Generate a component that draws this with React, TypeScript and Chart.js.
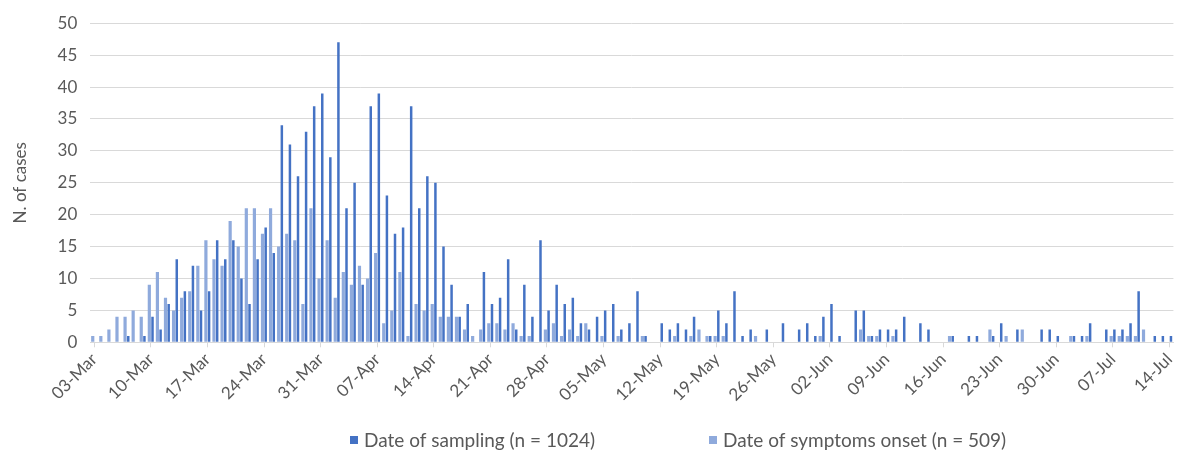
import React, { useEffect, useRef } from 'react';
import { Chart, registerables } from 'chart.js';

Chart.register(...registerables);

// ---- data ----
const MONTHS = ['Jan', 'Feb', 'Mar', 'Apr', 'May', 'Jun', 'Jul', 'Aug', 'Sep', 'Oct', 'Nov', 'Dec'];
const FIRST_DAY = { year: 2020, month: 2, day: 3 };
const DAY_COUNT = 134;

const TICK_LABELS = [
  '03-Mar', '10-Mar', '17-Mar', '24-Mar', '31-Mar', '07-Apr', '14-Apr', '21-Apr', '28-Apr', '05-May',
  '12-May', '19-May', '26-May', '02-Jun', '09-Jun', '16-Jun', '23-Jun', '30-Jun', '07-Jul', '14-Jul',
];

const SAMPLING = [
  0, 0, 0, 0, 1, 0, 1, 4, 2, 6,
  13, 8, 12, 5, 8, 16, 13, 16, 10, 6,
  13, 18, 14, 34, 31, 26, 33, 37, 39, 29,
  47, 21, 25, 9, 37, 39, 23, 17, 18, 37,
  21, 26, 25, 15, 9, 4, 6, 0, 11, 6,
  7, 13, 2, 9, 4, 16, 5, 9, 6, 7,
  3, 2, 4, 5, 6, 2, 3, 8, 1, 0,
  3, 2, 3, 2, 4, 0, 1, 5, 3, 8,
  1, 2, 0, 2, 0, 3, 0, 2, 3, 1,
  4, 6, 1, 0, 5, 5, 1, 2, 2, 2,
  4, 0, 3, 2, 0, 0, 1, 0, 1, 1,
  0, 1, 3, 0, 2, 0, 0, 2, 2, 1,
  0, 1, 1, 3, 0, 2, 2, 2, 3, 8,
  0, 1, 1, 1,
];

const ONSET = [
  1, 1, 2, 4, 4, 5, 4, 9, 11, 7,
  5, 7, 8, 12, 16, 13, 12, 19, 15, 21,
  21, 17, 21, 15, 17, 16, 6, 21, 10, 16,
  7, 11, 9, 12, 10, 14, 3, 5, 11, 1,
  6, 5, 6, 4, 4, 4, 2, 1, 2, 3,
  3, 2, 3, 1, 1, 0, 2, 3, 1, 2,
  1, 3, 0, 1, 0, 1, 0, 0, 1, 0,
  0, 0, 1, 0, 1, 2, 1, 1, 1, 0,
  0, 0, 1, 0, 0, 0, 0, 0, 0, 0,
  1, 0, 0, 0, 0, 2, 1, 1, 0, 1,
  0, 0, 0, 0, 0, 0, 1, 0, 0, 0,
  0, 2, 0, 1, 0, 2, 0, 0, 0, 0,
  0, 1, 0, 1, 0, 0, 1, 1, 1, 1,
  2, 0, 0, 0,
];

const SERIES_NAMES = ['Date of sampling (n = 1024)', 'Date of symptoms onset (n = 509)'];
const Y_TITLE = 'N. of cases';

// ---- styles ----
const DARK = '#4472C4';
const LIGHT = '#8FAADC';
const GRID = '#D9D9D9';
const TEXT = '#595959';
const FONT_FAMILY = 'Lato, "Open Sans", sans-serif';

const DAY_LABELS = Array.from({ length: DAY_COUNT }, (_, i) => {
  const d = new Date(Date.UTC(FIRST_DAY.year, FIRST_DAY.month, FIRST_DAY.day + i));
  return String(d.getUTCDate()).padStart(2, '0') + '-' + MONTHS[d.getUTCMonth()];
});

const legendPlugin = {
  id: 'customLegend',
  afterDraw(chart: any) {
    const ctx = chart.ctx;
    ctx.save();
    ctx.font = `19px ${FONT_FAMILY}`;
    ctx.textBaseline = 'middle';
    ctx.textAlign = 'left';
    const items = [
      { text: SERIES_NAMES[0], color: DARK, boxX: 350, textX: 364 },
      { text: SERIES_NAMES[1], color: LIGHT, boxX: 709, textX: 723 },
    ];
    const cy = 440;
    items.forEach((it) => {
      ctx.fillStyle = it.color;
      ctx.fillRect(it.boxX, cy - 4, 8, 8);
      ctx.fillStyle = TEXT;
      ctx.fillText(it.text, it.textX, cy + 1);
    });
    ctx.restore();
  },
};

export default function App() {
  const ref = useRef<HTMLCanvasElement | null>(null);

  useEffect(() => {
    if (!ref.current) return;
    const font = { family: FONT_FAMILY, size: 17 };
    const chart = new Chart(ref.current, {
      type: 'bar',
      data: {
        labels: DAY_LABELS,
        datasets: [
          {
            label: SERIES_NAMES[1],
            data: ONSET,
            backgroundColor: LIGHT,
            barPercentage: 1.0,
            categoryPercentage: 0.79,
          },
          {
            label: SERIES_NAMES[0],
            data: SAMPLING,
            backgroundColor: DARK,
            barPercentage: 0.78,
            categoryPercentage: 0.79,
          },
        ],
      },
      options: {
        animation: false,
        responsive: true,
        maintainAspectRatio: false,
        devicePixelRatio: 1,
        layout: { padding: { left: 0, right: 3.6, top: 20, bottom: 30 } },
        plugins: {
          legend: { display: false },
          tooltip: { enabled: false },
        },
        scales: {
          x: {
            offset: true,
            grid: {
              display: true,
              drawOnChartArea: false,
              drawTicks: true,
              tickLength: 5,
              offset: false,
              color: (c: any) => (c.index % 7 === 0 ? GRID : 'rgba(0,0,0,0)'),
            },
            border: { display: true, color: GRID },
            ticks: {
              autoSkip: false,
              minRotation: 45,
              maxRotation: 45,
              padding: 2,
              color: TEXT,
              font,
              callback: (_v: any, i: number) => (i % 7 === 0 ? TICK_LABELS[i / 7] : ''),
            },
            afterFit: (s: any) => {
              s.height = 80.7;
              s.paddingLeft = 0;
              s.paddingRight = 0;
            },
          },
          y: {
            min: 0,
            max: 50,
            ticks: { stepSize: 5, padding: 13, color: TEXT, font },
            grid: { color: GRID, drawTicks: false },
            border: { display: false },
            title: {
              display: true,
              text: Y_TITLE,
              color: TEXT,
              font,
              padding: { top: 10, bottom: 0 },
            },
            afterFit: (s: any) => {
              s.width = 90.3;
            },
          },
        },
      },
      plugins: [legendPlugin],
    });
    return () => chart.destroy();
  }, []);

  return (
    <div style={{ position: 'absolute', left: 0, top: 0, width: 1177, height: 453, background: '#fff' }}>
      <canvas ref={ref} />
    </div>
  );
}
